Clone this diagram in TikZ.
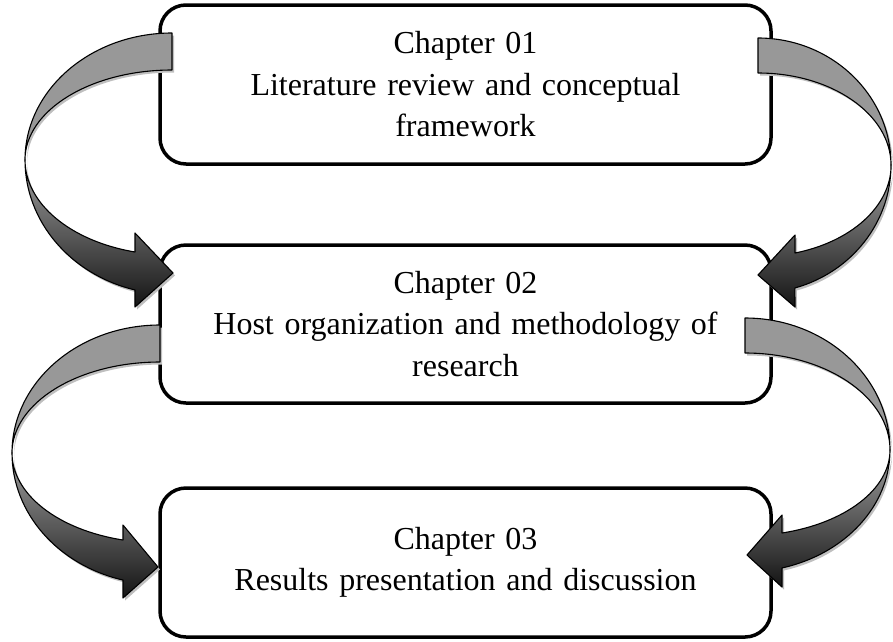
\documentclass[tikz,border=0pt]{standalone}
\usepackage{fontspec}
\setmainfont{Liberation Serif}
\usetikzlibrary{shadows}
\begin{document}
\begin{tikzpicture}[x=1pt,y=-1pt,
  chapbox/.style={draw, line width=3.5pt, rounded corners=26pt, minimum width=611pt,
    text width=590pt, align=center, font=\fontsize{32}{41.5}\selectfont, inner sep=0pt},
  band/.style={draw=black, line width=1.1pt, line join=round,
    drop shadow={shadow xshift=2pt, shadow yshift=-2.5pt, fill=black!25, opacity=1}},
  backband/.style={band, fill={rgb,255:red,152;green,152;blue,152}},
  frontband/.style={band, top color={rgb,255:red,160;green,160;blue,160},
    bottom color={rgb,255:red,20;green,20;blue,20}}
]
\useasboundingbox (0,0) rectangle (893,641);

% chapter boxes
\node[chapbox, minimum height=159pt] (c1) at (465.5,84.5)
  {Chapter 01\\Literature review and conceptual\\framework};
\node[chapbox, minimum height=158pt] (c2) at (465.5,324)
  {Chapter 02\\Host organization and methodology of\\research};
\node[chapbox, minimum height=149pt] (c3) at (465.5,562.5)
  {Chapter 03\\Results presentation and discussion};

% arrow 1: left, chapter 01 -> chapter 02
\draw[backband] (172,33) arc[start angle=270, end angle=180, x radius=147, y radius=127]
  arc[start angle=180, end angle=270, x radius=147, y radius=90] -- cycle;
\draw[frontband] (25,160) arc[start angle=180, end angle=104.6, x radius=147, y radius=134.3]
  -- (135,307) -- (173,273) -- (135,233) -- (135,252)
  arc[start angle=104.6, end angle=180, x radius=147, y radius=95] -- cycle;

% arrow 2: right, chapter 01 -> chapter 02
\draw[backband] (758,38) arc[start angle=270, end angle=360, x radius=133, y radius=127]
  arc[start angle=0, end angle=-90, x radius=133, y radius=92] -- cycle;
\draw[frontband] (891,165) arc[start angle=0, end angle=73.9, x radius=133, y radius=128]
  -- (795,307) -- (758,275) -- (795,235) -- (795,253)
  arc[start angle=73.9, end angle=0, x radius=133, y radius=91.6] -- cycle;

% arrow 3: left, chapter 02 -> chapter 03
\draw[backband] (160,325) arc[start angle=270, end angle=180, x radius=148, y radius=128]
  arc[start angle=180, end angle=270, x radius=148, y radius=91] -- cycle;
\draw[frontband] (12,453) arc[start angle=180, end angle=104.48, x radius=148, y radius=131.2]
  -- (123,598) -- (158,567) -- (123,525) -- (123,540)
  arc[start angle=104.48, end angle=180, x radius=148, y radius=89.9] -- cycle;

% arrow 4: right, chapter 02 -> chapter 03
\draw[backband] (745,318) arc[start angle=270, end angle=360, x radius=145, y radius=132]
  arc[start angle=0, end angle=-90, x radius=145, y radius=97] -- cycle;
\draw[frontband] (890,450) arc[start angle=0, end angle=75.21, x radius=145, y radius=122]
  -- (782,587) -- (747,555) -- (782,515) -- (782,533)
  arc[start angle=75.21, end angle=0, x radius=145, y radius=85.8] -- cycle;
\end{tikzpicture}
\end{document}
